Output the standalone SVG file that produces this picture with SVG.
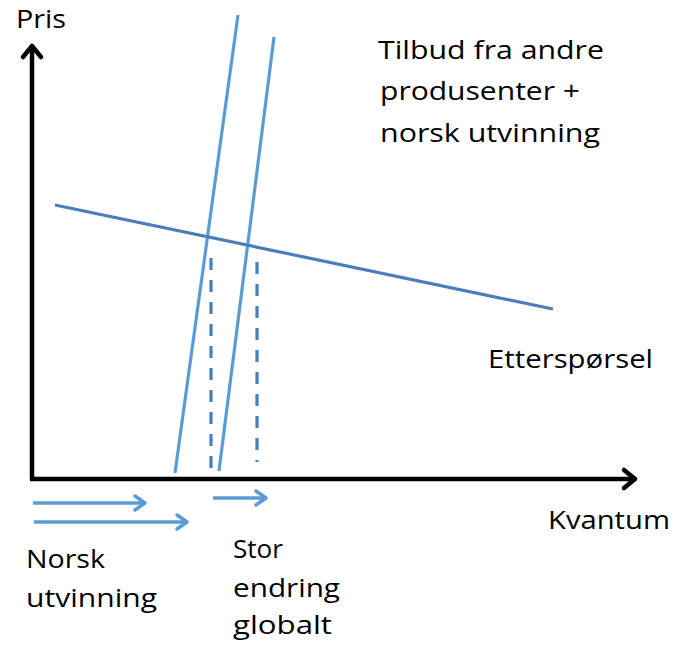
<svg xmlns="http://www.w3.org/2000/svg" width="674" height="650" viewBox="0 0 674 650">
<style>
text{font-family:"Open Sans","Liberation Sans",sans-serif;font-size:25px;fill:#000}
.ax{stroke:#000;stroke-width:4.5;fill:none}
.sup{stroke:#5B9BD5;stroke-width:3.2;fill:none}
.dem{stroke:#4A7EBB;stroke-width:3.2;fill:none}
.dash{stroke:#4A7EBB;stroke-width:3.2;fill:none;stroke-dasharray:12 10}
.arr{stroke:#5B9BD5;stroke-width:3.5;fill:none;marker-end:url(#bh)}
</style>
<defs>
<marker id="bh" markerUnits="userSpaceOnUse" markerWidth="20" markerHeight="20" refX="14" refY="10" orient="auto" overflow="visible">
<polyline points="4,3 14,10 4,17" fill="none" stroke="#5B9BD5" stroke-width="3.5" stroke-linecap="round" stroke-linejoin="round"/>
</marker>
<marker id="kh" markerUnits="userSpaceOnUse" markerWidth="24" markerHeight="24" refX="16" refY="12" orient="auto" overflow="visible">
<polyline points="5,3 16,12 5,21" fill="none" stroke="#000" stroke-width="4.5" stroke-linecap="round" stroke-linejoin="round"/>
</marker>
</defs>
<g id="axes">
<line class="ax" x1="32" y1="479" x2="32" y2="46" marker-end="url(#kh)"/>
<line class="ax" x1="30" y1="479" x2="635" y2="479" marker-end="url(#kh)"/>
</g>
<g id="connectors">
<line id="supply1" class="sup" x1="175" y1="473" x2="238" y2="15"/>
<line id="supply2" class="sup" x1="219" y1="471" x2="274" y2="37"/>
<line id="demand" class="dem" x1="55" y1="205" x2="553" y2="309"/>
<line class="dash" x1="211" y1="258" x2="211" y2="472"/>
<line class="dash" x1="257" y1="262" x2="257" y2="462"/>
<line class="arr" x1="33" y1="503" x2="145" y2="503"/>
<line class="arr" x1="34" y1="522" x2="187" y2="522"/>
<line class="arr" x1="213" y1="498" x2="266" y2="498"/>
</g>
<g id="labels">
<text x="16" y="28" textLength="50" lengthAdjust="spacingAndGlyphs">Pris</text>
<text x="378" y="59" textLength="226" lengthAdjust="spacingAndGlyphs">Tilbud fra andre</text>
<text x="380" y="100" textLength="200" lengthAdjust="spacingAndGlyphs">produsenter +</text>
<text x="380" y="142" textLength="220" lengthAdjust="spacingAndGlyphs">norsk utvinning</text>
<text x="488" y="368" textLength="165" lengthAdjust="spacingAndGlyphs">Etterspørsel</text>
<text x="548" y="529" textLength="122" lengthAdjust="spacingAndGlyphs">Kvantum</text>
<text x="26" y="568" textLength="79" lengthAdjust="spacingAndGlyphs">Norsk</text>
<text x="26" y="607" textLength="131" lengthAdjust="spacingAndGlyphs">utvinning</text>
<text x="233" y="558" textLength="50" lengthAdjust="spacingAndGlyphs">Stor</text>
<text x="233" y="597" textLength="107" lengthAdjust="spacingAndGlyphs">endring</text>
<text x="233" y="634" textLength="99" lengthAdjust="spacingAndGlyphs">globalt</text>
</g>
</svg>
